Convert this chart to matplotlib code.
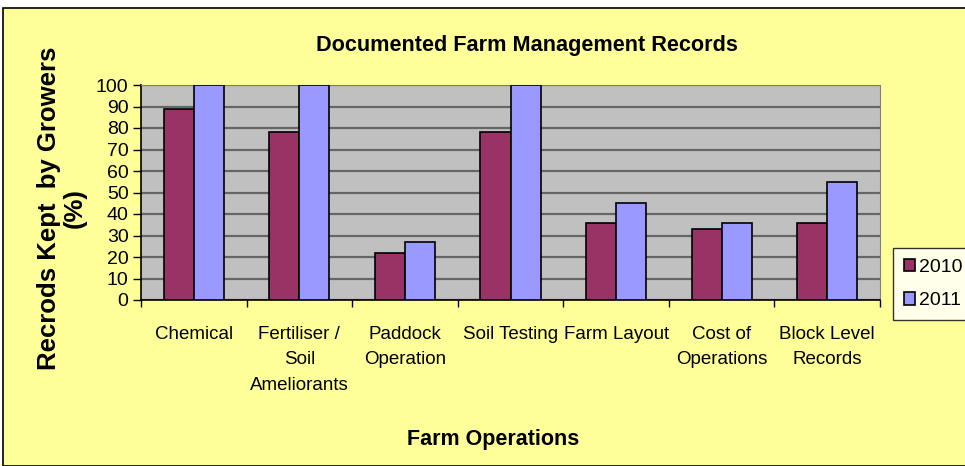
import numpy as np
import matplotlib.pyplot as plt
from matplotlib.patches import Rectangle

plt.rcParams['font.family'] = ['Liberation Sans', 'DejaVu Sans']

categories = ['Chemical', 'Fertiliser /\nSoil\nAmeliorants', 'Paddock\nOperation',
              'Soil Testing', 'Farm Layout', 'Cost of\nOperations', 'Block Level\nRecords']
vals_2010 = [89, 78, 22, 78, 36, 33, 36]
vals_2011 = [100, 100, 27, 100, 45, 36, 55]
yticks = np.arange(0, 101, 10)

fig = plt.figure(figsize=(9.65, 4.66), dpi=100, facecolor='white')

# fondo amarillo con borde
fig.patches.append(Rectangle((3 / 965, 0), 1, 1 - 8 / 466, transform=fig.transFigure,
                             facecolor='#FFFF99', edgecolor='black', linewidth=1.2, zorder=-10))

ax = fig.add_axes([141 / 965, 1 - 300 / 466, 739 / 965, 215 / 466])
ax.set_facecolor('#C0C0C0')

x = np.arange(len(categories))
w = 0.285
ax.bar(x - w / 2, vals_2010, w, color='#993366', edgecolor='black', linewidth=1.2,
       label='2010', zorder=3)
ax.bar(x + w / 2, vals_2011, w, color='#9999FF', edgecolor='black', linewidth=1.2,
       label='2011', zorder=3)

ax.set_xlim(-0.5, len(categories) - 0.5)
ax.set_ylim(0, 100)
ax.set_yticks(yticks)
ax.tick_params(axis='y', labelsize=14, length=6, width=1, pad=3)
ax.set_xticks(x, categories)
ax.tick_params(axis='x', which='major', length=0, labelsize=13.5, pad=19)
ax.set_xticks(np.arange(-0.5, len(categories), 1), minor=True)
ax.tick_params(axis='x', which='minor', length=5, width=1, direction='out')
for lbl in ax.get_xticklabels():
    lbl.set_verticalalignment('top')
    lbl.set_linespacing(1.62)

ax.yaxis.grid(True, color='#666666', linewidth=1.6, zorder=1)
ax.set_axisbelow(True)
for s in ['top', 'right']:
    ax.spines[s].set_color('#808080')
ax.spines['left'].set_linewidth(1.2)
ax.spines['bottom'].set_linewidth(1.2)

fig.text(527 / 965, 1 - 45 / 466, 'Documented Farm Management Records', ha='center', va='center',
         fontsize=15.6, fontweight='bold')
fig.text(62 / 965, 1 - 208 / 466, 'Recrods Kept  by Growers\n(%)', ha='center', va='center',
         rotation=90, fontsize=18.5, fontweight='bold', linespacing=1.12)
fig.text(493 / 965, 1 - 440 / 466, 'Farm Operations', ha='center', va='center',
         fontsize=15.5, fontweight='bold')

leg = fig.legend(loc='upper left', bbox_to_anchor=(893 / 965, 1 - 248 / 466), fontsize=14,
                 frameon=True, fancybox=False, edgecolor='black', facecolor='white',
                 handlelength=0.6, handleheight=0.6, handletextpad=0.2, labelspacing=0.85,
                 borderpad=0.55, borderaxespad=0)
leg.get_frame().set_linewidth(1.0)

fig.savefig('out.png', dpi=100, facecolor='white')
